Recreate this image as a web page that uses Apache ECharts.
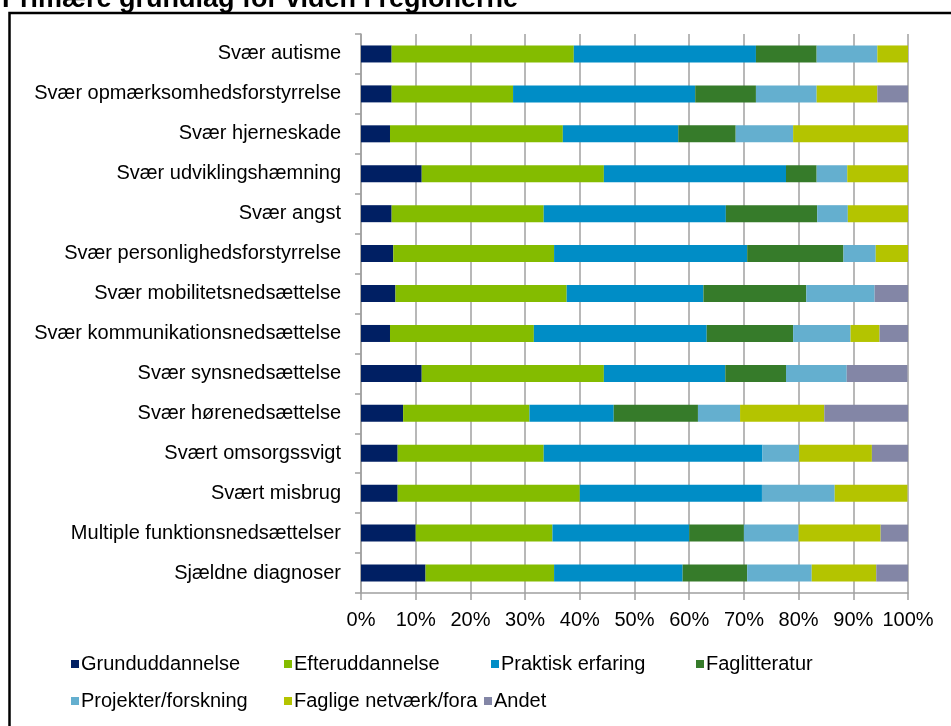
<!DOCTYPE html>
<html>
<head>
<meta charset="utf-8">
<script src="https://cdn.jsdelivr.net/npm/echarts@6/dist/echarts.min.js"></script>
<style>
  html, body { margin: 0; padding: 0; background: #fff; }
  #chart { width: 951px; height: 726px; }
</style>
</head>
<body>
<div id="chart"></div>
<script>
const categories = [
  'Svær autisme',
  'Svær opmærksomhedsforstyrrelse',
  'Svær hjerneskade',
  'Svær udviklingshæmning',
  'Svær angst',
  'Svær personlighedsforstyrrelse',
  'Svær mobilitetsnedsættelse',
  'Svær kommunikationsnedsættelse',
  'Svær synsnedsættelse',
  'Svær hørenedsættelse',
  'Svært omsorgssvigt',
  'Svært misbrug',
  'Multiple funktionsnedsættelser',
  'Sjældne diagnoser'
]

// andel i procent pr. kategori (læst af figuren)
const grunduddannelse = [5.6, 5.6, 5.3, 11.1, 5.6, 5.9, 6.3, 5.3, 11.1, 7.7, 6.7, 6.7, 10.0, 11.8]
const efteruddannelse = [33.3, 22.2, 31.6, 33.3, 27.8, 29.4, 31.3, 26.3, 33.3, 23.1, 26.7, 33.3, 25.0, 23.5]
const praktisk = [33.3, 33.3, 21.1, 33.3, 33.3, 35.3, 25.0, 31.6, 22.2, 15.4, 40.0, 33.3, 25.0, 23.5]
const faglitteratur = [11.1, 11.1, 10.5, 5.6, 16.7, 17.6, 18.8, 15.8, 11.1, 15.4, 0, 0, 10.0, 11.8]
const projekter = [11.1, 11.1, 10.5, 5.6, 5.6, 5.9, 12.5, 10.5, 11.1, 7.7, 6.7, 13.3, 10.0, 11.8]
const netvaerk = [5.6, 11.1, 21.1, 11.1, 11.1, 5.9, 0, 5.3, 0, 15.4, 13.3, 13.3, 15.0, 11.8]
const andet = [0, 5.6, 0, 0, 0, 0, 6.3, 5.3, 11.1, 15.4, 6.7, 0, 5.0, 5.9]

const xTicks = [0, 10, 20, 30, 40, 50, 60, 70, 80, 90, 100]

const seriesDefs = [
  { name: 'Grunduddannelse', data: grunduddannelse, color: '#001f63' },
  { name: 'Efteruddannelse', data: efteruddannelse, color: '#84bc00' },
  { name: 'Praktisk erfaring', data: praktisk, color: '#008dc6' },
  { name: 'Faglitteratur', data: faglitteratur, color: '#367b2a' },
  { name: 'Projekter/forskning', data: projekter, color: '#64afcf' },
  { name: 'Faglige netværk/fora', data: netvaerk, color: '#b4c400' },
  { name: 'Andet', data: andet, color: '#8386a6' }
]

// one legend per item, laid out like the Excel legend
const legendPos = [
  [71, 654], [284, 654], [491, 654], [696, 654],
  [71, 691], [284, 691], [484, 691]
]

const font = 'Liberation Sans, Arial, sans-serif'
const chart = echarts.init(document.getElementById('chart'))

chart.setOption({
  animation: false,
  textStyle: { fontFamily: font },
  title: {
    text: 'Primære grundlag for viden i regionerne',
    left: 2,
    top: -14,
    padding: 0,
    textStyle: { fontFamily: font, fontWeight: 'bold', fontSize: 27, color: '#000' }
  },
  graphic: [{
    type: 'rect',
    z: -1,
    shape: { x: 9.5, y: 13, width: 1200, height: 900 },
    style: { fill: null, stroke: '#000', lineWidth: 2.5 }
  }],
  legend: seriesDefs.map((s, i) => ({
    data: [s.name],
    left: legendPos[i][0],
    top: legendPos[i][1],
    padding: 0,
    itemWidth: 8,
    itemHeight: 8,
    icon: 'rect',
    selectedMode: false,
    textStyle: { fontFamily: font, fontSize: 20, color: '#000', padding: [0, 0, 0, -3] }
  })),
  grid: { left: 361, right: 43, top: 34, bottom: 133, containLabel: false },
  xAxis: {
    type: 'value',
    min: 0,
    max: 100,
    interval: 10,
    axisLine: { show: true, lineStyle: { color: '#a0a0a0', width: 1.5 } },
    axisTick: { show: true, length: 7, lineStyle: { color: '#a0a0a0', width: 1.5 } },
    splitLine: { show: true, lineStyle: { color: '#a0a0a0', width: 1.5 } },
    axisLabel: {
      margin: 17,
      fontSize: 20,
      color: '#000',
      fontFamily: font,
      formatter: (v) => xTicks.includes(v) ? v + '%' : ''
    }
  },
  yAxis: {
    type: 'category',
    data: categories,
    inverse: true,
    axisLine: { show: true, lineStyle: { color: '#a0a0a0', width: 1.5 } },
    axisTick: { show: true, length: 6, lineStyle: { color: '#a0a0a0', width: 1.5 } },
    axisLabel: { margin: 20, fontSize: 20, color: '#000', fontFamily: font }
  },
  series: seriesDefs.map((s) => ({
    name: s.name,
    type: 'bar',
    stack: 'total',
    barWidth: 17,
    data: s.data,
    itemStyle: { color: s.color }
  }))
})
</script>
</body>
</html>
